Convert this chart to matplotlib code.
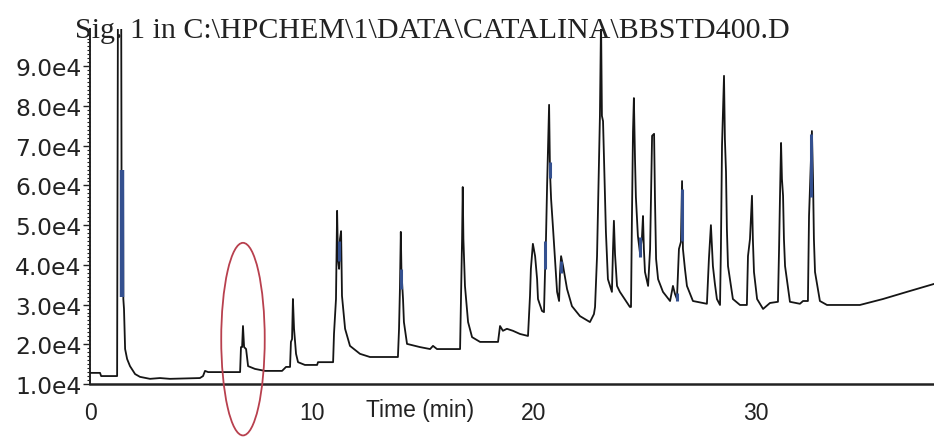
import matplotlib
matplotlib.use('Agg')
import matplotlib.pyplot as plt
from matplotlib.patches import Ellipse
from matplotlib.ticker import MultipleLocator, FuncFormatter
import numpy as np

# chromatogram trace: time (min), signal (x1e4 counts)
time_min = [0.00, 0.45, 0.50, 1.22, 1.26, 1.40, 1.42, 1.49, 1.50, 1.53, 1.58, 1.67, 1.80, 2.03, 2.25, 2.70,
            3.15, 3.60, 4.95, 5.09, 5.18, 5.32, 6.76, 6.80, 6.85, 6.89, 6.94, 7.03, 7.12, 7.43, 7.88, 8.65,
            8.83, 9.01, 9.05, 9.10, 9.14, 9.19, 9.28, 9.37, 9.68, 10.23, 10.27, 10.95, 10.99, 11.08, 11.13,
            11.17, 11.22, 11.26, 11.31, 11.35, 11.49, 11.71, 12.16, 12.61, 13.87, 13.92, 13.96, 14.00, 14.03,
            14.10, 14.14, 14.28, 14.86, 15.32, 15.45, 15.63, 16.67, 16.71, 16.76, 16.79, 16.82, 16.89, 17.03,
            17.21, 17.57, 18.38, 18.47, 18.60, 18.78, 19.05, 19.37, 19.73, 19.82, 19.86, 19.95, 20.05, 20.14,
            20.18, 20.36, 20.45, 20.50, 20.54, 20.59, 20.68, 20.72, 20.77, 20.86, 21.04, 21.13, 21.17, 21.22,
            21.31, 21.49, 21.71, 22.07, 22.52, 22.70, 22.75, 22.84, 22.97, 23.02, 23.06, 23.11, 23.24, 23.33,
            23.51, 23.56, 23.60, 23.65, 23.74, 23.87, 24.32, 24.37, 24.41, 24.46, 24.50, 24.55, 24.59, 24.68,
            24.77, 24.86, 24.91, 24.95, 25.00, 25.14, 25.23, 25.27, 25.32, 25.41, 25.45, 25.50, 25.59, 25.81,
            26.13, 26.26, 26.35, 26.44, 26.53, 26.62, 26.67, 26.71, 26.80, 26.89, 27.16, 27.79, 27.88, 27.97,
            28.02, 28.06, 28.15, 28.24, 28.38, 28.42, 28.47, 28.56, 28.60, 28.65, 28.69, 28.74, 28.96, 29.28,
            29.59, 29.64, 29.73, 29.82, 29.86, 29.91, 30.05, 30.32, 30.63, 30.99, 31.04, 31.08, 31.13, 31.17,
            31.22, 31.26, 31.31, 31.53, 31.98, 32.12, 32.34, 32.39, 32.48, 32.52, 32.57, 32.61, 32.66, 32.88,
            33.20, 34.68, 35.72, 36.80, 38.02]
signal_e4 = [1.28, 1.28, 1.20, 1.20, 11.5, 11.5, 5.91, 5.91, 3.14, 2.89, 1.88, 1.63, 1.45, 1.25, 1.18, 1.13,
             1.15, 1.13, 1.15, 1.20, 1.33, 1.30, 1.30, 1.93, 1.93, 2.46, 1.93, 1.88, 1.45, 1.38, 1.33, 1.33,
             1.43, 1.43, 2.06, 2.13, 3.14, 2.39, 1.76, 1.55, 1.48, 1.48, 1.55, 1.55, 2.26, 3.14, 5.36,
             4.15, 3.90, 4.65, 4.85, 3.22, 2.39, 1.96, 1.76, 1.68, 1.68, 2.39, 3.39, 4.83, 3.82,
             3.14, 2.56, 2.01, 1.93, 1.88, 1.96, 1.88, 1.88, 3.14, 4.65, 5.96, 4.65, 3.47, 2.56,
             2.18, 2.06, 2.06, 2.46, 2.34, 2.39, 2.34, 2.26, 2.21, 3.22, 3.90, 4.53, 4.22, 3.64,
             3.14, 2.84, 2.81, 3.90, 4.65, 5.99, 8.03, 6.37, 5.66, 4.90, 3.32, 3.09, 3.77, 4.22,
             3.97, 3.39, 2.96, 2.71, 2.56, 2.76, 2.94, 4.22, 7.75, 10.2, 7.75, 7.62, 4.83, 3.64,
             3.32, 4.40, 5.11, 4.27, 3.47, 3.32, 2.94, 2.94, 5.08, 7.35, 8.20, 6.67, 5.71, 4.73,
             4.32, 4.65, 5.23, 4.40, 3.82, 3.47, 4.40, 5.66, 7.25, 7.30, 5.66, 4.15, 3.64, 3.32,
             3.09, 3.47, 3.27, 3.14, 4.40, 4.58, 6.11, 4.40, 3.90, 3.47, 3.09, 3.02, 4.15, 5.00,
             4.40, 3.97, 3.52, 3.14, 2.99, 4.40, 7.00, 8.76, 7.17, 6.34, 4.90, 3.97, 3.14, 2.99,
             2.99, 4.22, 4.65, 5.74, 4.65, 3.82, 3.14, 2.89, 3.04, 3.07, 4.40, 5.66, 7.07, 6.16,
             5.74, 4.65, 3.97, 3.07, 3.02, 3.09, 3.09, 5.23, 6.67, 7.37, 6.16, 4.65, 3.82, 3.09,
             2.99, 2.99, 3.14, 3.32, 3.52]

# blue integration marks on some peaks: time, low, high (x1e4)
mark_t = [1.46, 11.20, 14.02, 20.50, 20.72, 21.22, 24.77, 26.45, 26.67, 32.50]
mark_lo = [3.2, 4.1, 3.4, 3.9, 6.2, 3.8, 4.2, 3.1, 4.6, 5.7]
mark_hi = [6.4, 4.6, 3.9, 4.6, 6.6, 4.1, 4.7, 3.3, 5.9, 7.3]
mark_w = [3.2, 2.2, 2.2, 2.2, 2.2, 2.2, 2.2, 2.2, 2.2, 2.2]

title_text = r"Sig. 1 in C:\HPCHEM\1\DATA\CATALINA\BBSTD400.D"
xtick_vals = [0, 10, 20, 30]

fig = plt.figure(figsize=(9.34, 4.39), dpi=100)
ax = fig.add_axes([0.0964, 0.123, 0.9036, 0.8087])

ax.plot(time_min, signal_e4, color='#151515', lw=1.3, zorder=3)
ax.vlines(mark_t, mark_lo, mark_hi, color='#34508f', lw=mark_w, zorder=4)

# red circle around the small peak
ell = Ellipse((6.89, 2.13), 1.96, 4.85, fill=False, ec='#b8404e', lw=1.3,
              clip_on=False, zorder=5)
ax.add_patch(ell)

ax.set_xlim(0, 38.02)
ax.set_ylim(1.0, 9.94)

for s in ['top', 'right']:
    ax.spines[s].set_visible(False)
ax.spines['left'].set_linewidth(1.4)
ax.spines['bottom'].set_linewidth(1.8)
ax.spines['left'].set_color('#222222')
ax.spines['bottom'].set_color('#222222')

ax.yaxis.set_major_locator(MultipleLocator(1.0))
ax.yaxis.set_minor_locator(MultipleLocator(0.1))
ax.yaxis.set_major_formatter(FuncFormatter(lambda v, p: '%.1fe4' % v))
ax.tick_params(axis='y', which='major', length=5, width=1.0, pad=1, labelsize=16.8,
               colors='#222222')
ax.tick_params(axis='y', which='minor', length=2, width=0.8, colors='#222222')
for lab in ax.get_yticklabels():
    lab.set_family('DejaVu Sans')

ax.set_xticks(xtick_vals)
ax.set_xticklabels([str(v) for v in xtick_vals], family='Liberation Sans')
ax.tick_params(axis='x', length=0, pad=12, labelsize=16.5, colors='#222222')
ax.text(14.85, -0.04, 'Time (min)', transform=ax.get_xaxis_transform(),
        ha='center', va='top', fontsize=16.5, family='Liberation Sans', color='#222222')

fig.text(75 / 934, (439 - 38) / 439, title_text, family='Liberation Serif', fontsize=21.6,
         ha='left', va='baseline', color='#222222')

fig.savefig('out.png', dpi=100)
